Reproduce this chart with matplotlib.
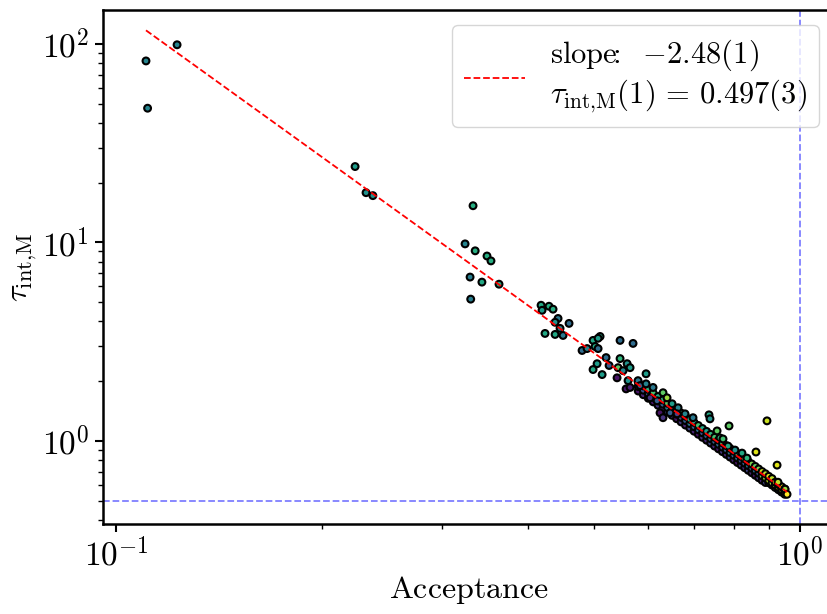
import numpy as np
import matplotlib
matplotlib.use("Agg")
import matplotlib.pyplot as plt

plt.rcParams['mathtext.fontset'] = 'cm'
plt.rcParams['font.family'] = 'DejaVu Serif'

# ---------------- data ----------------
# isolated low-acceptance points
acc_out = [0.1106, 0.1112, 0.1228, 0.2236, 0.2320, 0.2374, 0.3238, 0.3326,
           0.3350, 0.3486, 0.3533, 0.3293, 0.3427, 0.3630, 0.3300]
tau_out = [82.0, 47.4, 98.9, 24.1, 17.8, 17.2, 9.83, 15.3,
           9.07, 8.54, 8.07, 6.69, 6.31, 6.16, 5.18]
c_out = [0.45, 0.45, 0.45, 0.55, 0.5, 0.5, 0.45, 0.62,
         0.62, 0.62, 0.62, 0.42, 0.6, 0.62, 0.42]

# intermediate cluster / scattered points
acc_mid = [0.4182, 0.4196, 0.4295, 0.4354, 0.4428, 0.4384, 0.4458, 0.4595,
           0.4238, 0.4384, 0.4503, 0.4801, 0.4883, 0.4982, 0.5101, 0.5067,
           0.5016, 0.5067, 0.5205, 0.5050, 0.4982, 0.5136, 0.5456, 0.5700,
           0.5456, 0.5258, 0.5420, 0.5587, 0.5643, 0.5512, 0.5401, 0.5605,
           0.5568, 0.5643, 0.5796, 0.5955, 0.5836, 0.5955, 0.6097, 0.6036,
           0.6180, 0.6305, 0.6391, 0.6500, 0.6633, 0.6242, 0.6305, 0.6456,
           0.6610, 0.6790, 0.6975, 0.7360, 0.7385, 0.7874, 0.8947, 0.8621,
           0.9256, 0.7563, 0.7638, 0.7716, 0.7847, 0.8034, 0.8225, 0.8364,
           0.9285, 0.9508, 0.9572]
tau_mid = [4.825, 4.551, 4.77, 4.61, 4.14, 3.96, 3.69, 3.91,
           3.48, 3.44, 3.40, 2.856, 2.92, 3.21, 3.36, 3.29,
           2.99, 2.92, 2.63, 2.45, 2.29, 2.16, 3.21, 3.10,
           2.60, 2.40, 2.34, 2.45, 2.34, 2.26, 2.08, 2.013,
           1.83, 1.86, 2.013, 2.18, 1.90, 1.94, 1.86, 1.65,
           1.594, 1.75, 1.65, 1.54, 1.47, 1.386, 1.31, 1.386,
           1.37, 1.37, 1.31, 1.354, 1.293, 1.191, 1.263, 0.880,
           0.756, 1.124, 1.036, 1.024, 0.943, 0.900, 0.869, 0.820,
           0.620, 0.572, 0.539]
c_mid = [0.6, 0.55, 0.62, 0.62, 0.4, 0.5, 0.45, 0.35,
         0.6, 0.6, 0.4, 0.35, 0.45, 0.6, 0.6, 0.55,
         0.6, 0.35, 0.35, 0.55, 0.6, 0.55, 0.35, 0.35,
         0.65, 0.3, 0.75, 0.5, 0.55, 0.45, 0.05, 0.5,
         0.05, 0.08, 0.4, 0.55, 0.3, 0.45, 0.4, 0.15,
         0.3, 0.75, 0.85, 0.55, 0.45, 0.05, 0.15, 0.3,
         0.2, 0.45, 0.4, 0.6, 0.5, 0.75, 0.92, 0.95,
         0.95, 0.75, 0.65, 0.7, 0.6, 0.5, 0.6, 0.65,
         0.9, 0.85, 1.0]

acc_band = [0.58, 0.59,
            0.60, 0.61, 0.62, 0.63, 0.64, 0.65, 0.66, 0.67, 0.68, 0.69,
            0.70, 0.71, 0.72, 0.73, 0.74, 0.75, 0.76, 0.77, 0.78, 0.79,
            0.80, 0.81, 0.82, 0.83, 0.84, 0.85, 0.86, 0.87, 0.88, 0.89,
            0.90, 0.91, 0.92, 0.93, 0.94, 0.95]
tau_band_low = [1.785, 1.710,
                1.641, 1.574, 1.512, 1.454, 1.398, 1.346, 1.295, 1.248, 1.202, 1.161,
                1.120, 1.081, 1.043, 1.009, 0.976, 0.943, 0.913, 0.884, 0.856, 0.830,
                0.804, 0.779, 0.756, 0.734, 0.712, 0.692, 0.672, 0.653, 0.634, 0.618,
                0.616, 0.600, 0.583, 0.568, 0.553, 0.539]
tau_band_mid = [1.881, 1.802,
                1.729, 1.659, 1.593, 1.532, 1.473, 1.418, 1.365, 1.315, 1.267, 1.223,
                1.180, 1.139, 1.100, 1.063, 1.028, 0.994, 0.962, 0.931, 0.902, 0.874,
                0.847, 0.821, 0.797, 0.773, 0.751, 0.729, 0.709, 0.688, 0.668, 0.651,
                0.632, 0.615, 0.599, 0.583, 0.567, 0.553]
tau_band_up = [1.977, 1.894,
               1.817, 1.744, 1.675, 1.610, 1.548, 1.490, 1.435, 1.382, 1.332, 1.285,
               1.240, 1.197, 1.156, 1.118, 1.080, 1.044, 1.011, 0.979, 0.948, 0.919,
               0.890, 0.863, 0.837, 0.813, 0.789, 0.766, 0.745, 0.723, 0.702, 0.684,
               0.664, 0.647, 0.620, 0.604, 0.588, 0.573]
c_band_low = [0.05, 0.1,
              0.1, 0.05, 0.15, 0.1, 0.2, 0.1, 0.05, 0.15, 0.1, 0.2,
              0.1, 0.05, 0.15, 0.1, 0.2, 0.1, 0.05, 0.15, 0.1, 0.2,
              0.1, 0.05, 0.15, 0.1, 0.2, 0.1, 0.05, 0.15, 0.1, 0.2,
              0.5, 0.4, 0.6, 0.5, 0.7, 0.8]
c_band_mid = [0.3, 0.25,
              0.3, 0.35, 0.25, 0.3, 0.4, 0.3, 0.35, 0.25, 0.3, 0.4,
              0.3, 0.35, 0.25, 0.3, 0.4, 0.3, 0.35, 0.25, 0.3, 0.4,
              0.3, 0.35, 0.25, 0.3, 0.4, 0.3, 0.35, 0.25, 0.8, 0.85,
              0.9, 0.85, 0.9, 0.95, 0.9, 0.95]
c_band_up = [0.6, 0.65,
             0.65, 0.7, 0.6, 0.65, 0.75, 0.65, 0.6, 0.7, 0.65, 0.6,
             0.6, 0.7, 0.6, 0.55, 0.65, 0.7, 0.6, 0.7, 0.65, 0.6,
             0.75, 0.7, 0.8, 0.75, 0.7, 0.8, 0.75, 0.8, 0.92, 0.9,
             0.95, 0.9, 0.95, 0.92, 0.95, 1.0]

# fit parameters
fit_slope = -2.48
fit_tau1 = 0.497

# ---------------- plot ----------------
acc_all = np.concatenate([acc_band, acc_band, acc_band, acc_mid, acc_out])
tau_all = np.concatenate([tau_band_low, tau_band_mid, tau_band_up, tau_mid, tau_out])
c_all = np.concatenate([c_band_low, c_band_mid, c_band_up, c_mid, c_out])

fig = plt.figure(figsize=(8.28, 6.14), dpi=100)
ax = fig.add_axes([0.1244, 0.1466, 0.8828, 0.8371])

ax.scatter(acc_all, tau_all, c=c_all, cmap='viridis', vmin=0, vmax=1,
           s=24, edgecolors='black', linewidths=1.5, zorder=3)

xfit = np.array([min(acc_all), max(acc_all)])
yfit = fit_tau1 * xfit ** fit_slope
ax.plot(xfit, yfit, color='red', ls='--', lw=1.3, zorder=4,
        label=r'$\mathrm{slope}\!\!:\;\ {-2.48(1)}$' + '\n'
              + r'$\tau_{\mathrm{int{,}M}}(1)\,=\,0.497(3)$')

ax.axhline(fit_tau1, color='blue', alpha=0.5, ls='--', lw=1.3, zorder=2)
ax.axvline(1.0, color='blue', alpha=0.5, ls='--', lw=1.3, zorder=2)

ax.set_xscale('log')
ax.set_yscale('log')
ax.set_xlim(0.0957, 1.121)
ax.set_ylim(0.382, 148)

ax.set_xticks([0.1, 1.0])
ax.set_xticklabels([r'$10^{-1}$', r'$10^{0}$'])
ax.set_yticks([1.0, 10.0, 100.0])
ax.set_yticklabels([r'$10^{0}$', r'$10^{1}$', r'$10^{2}$'])
ax.xaxis.set_minor_formatter(matplotlib.ticker.NullFormatter())
ax.yaxis.set_minor_formatter(matplotlib.ticker.NullFormatter())

ax.tick_params(which='major', length=6, width=1.5, labelsize=24, pad=4)
ax.tick_params(which='minor', length=3.5, width=1.0)
for sp in ax.spines.values():
    sp.set_linewidth(1.8)

ax.set_xlabel(r'$\mathrm{Acceptance}$', fontsize=23, labelpad=1)
ax.set_ylabel(r'$\tau_{\mathrm{int{,}M}}$', fontsize=23, labelpad=2)

ax.legend(loc='upper right', fontsize=22, handlelength=2.0)

fig.savefig('out.png', dpi=100)
